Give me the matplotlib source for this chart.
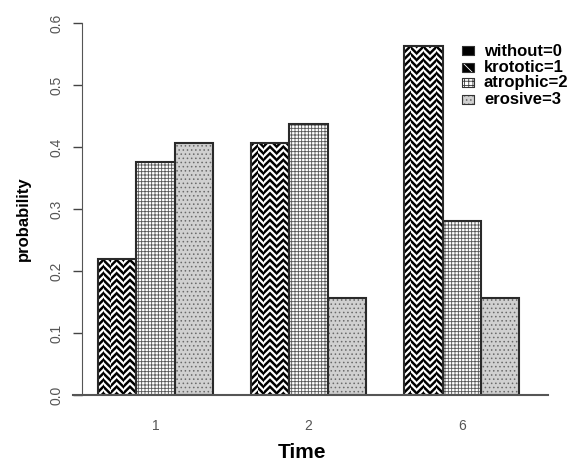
import matplotlib
matplotlib.use("Agg")
import matplotlib.pyplot as plt
from matplotlib.patches import Rectangle

plt.rcParams['font.family'] = ['Liberation Sans', 'DejaVu Sans']
plt.rcParams['hatch.linewidth'] = 0.6

# data (32 patients -> probabilities)
times = ["1", "2", "6"]
without = [0.219, 0.406, 0.5625]
atrophic = [0.375, 0.4375, 0.281]
erosive = [0.406, 0.156, 0.156]
legend_names = ["without=0", "krototic=1", "atrophic=2", "erosive=3"]
yticks = [0.0, 0.1, 0.2, 0.3, 0.4, 0.5, 0.6]

W, H = 572, 473
fig = plt.figure(figsize=(W / 100, H / 100), dpi=100)
ax = fig.add_axes([82 / W, 1 - 395 / H, (548 - 82) / W, (395 - 23) / H])

edge = "#2a2a2a"
nstrip = 6


def thick_hatch(bars, lw):
    for b in bars:
        if hasattr(b, "set_hatch_linewidth"):
            b.set_hatch_linewidth(lw)


for g in range(len(times)):
    x0 = g * 4
    # without: black with white herringbone (alternating strips)
    ax.bar(x0, without[g], width=1, align="edge", color="black", linewidth=0)
    for s in range(nstrip):
        bb = ax.bar(x0 + s / nstrip, without[g], width=1 / nstrip, align="edge",
                    facecolor="none", edgecolor="white", linewidth=0,
                    hatch="/////" if s % 2 == 0 else "\\\\\\\\\\")
        thick_hatch(bb, 1.6)
    # atrophic: fine grid
    ax.bar(x0 + 1, atrophic[g], width=1, align="edge", facecolor="white",
           edgecolor="#555555", linewidth=0, hatch="+++++")
    # erosive: speckled grey
    ax.bar(x0 + 2, erosive[g], width=1, align="edge", facecolor="#d0d0d0",
           edgecolor="#6a6a6a", linewidth=0, hatch="....")
    # outlines
    for i, v in enumerate([without[g], atrophic[g], erosive[g]]):
        ax.bar(x0 + i, v, width=1, align="edge", facecolor="none",
               edgecolor=edge, linewidth=1.5)

ax.set_xlim(-0.418, 11.75)
ax.set_ylim(0, 0.6)

for side in ["top", "right"]:
    ax.spines[side].set_visible(False)
ax.spines["left"].set_bounds(0, 0.6)
ax.spines["left"].set_color("#555555")
ax.spines["bottom"].set_bounds(-0.653, 11.75)
ax.spines["bottom"].set_color("#555555")
ax.spines["bottom"].set_linewidth(1.5)

ax.set_xticks([g * 4 + 1.5 for g in range(len(times))])
ax.set_xticklabels(times)
ax.tick_params(axis="x", length=0, pad=17, labelsize=10, labelcolor="#555555")
ax.set_yticks(yticks)
ax.set_yticklabels(["%.1f" % v for v in yticks], rotation=90, va="center")
ax.tick_params(axis="y", length=6.5, width=1, color="#444444", pad=7,
               labelsize=10, labelcolor="#555555")

fig.text(23 / W, 1 - 219 / H, "probability", rotation=90, ha="center",
         va="center", fontsize=12, fontweight="bold")
fig.text(302 / W, 1 - 452 / H, "Time", ha="center", va="center",
         fontsize=15, fontweight="bold")

# legend drawn by hand
styles = [
    dict(facecolor="black", edgecolor="black", hatch=None),
    dict(facecolor="black", edgecolor="white", hatch="\\\\\\"),
    dict(facecolor="white", edgecolor="#3a3a3a", hatch="++++"),
    dict(facecolor="#d0d0d0", edgecolor="#6a6a6a", hatch="...."),
]
for k, name in enumerate(legend_names):
    yc = 51 + 16 * k
    r = Rectangle((462 / W, 1 - (yc + 4.5) / H), 12 / W, 9 / H,
                  transform=fig.transFigure, linewidth=0.6, **styles[k])
    fig.patches.append(r)
    r2 = Rectangle((462 / W, 1 - (yc + 4.5) / H), 12 / W, 9 / H,
                   transform=fig.transFigure, facecolor="none",
                   edgecolor="#333333", linewidth=0.8)
    fig.patches.append(r2)
    fig.text(484 / W, 1 - yc / H, name, ha="left", va="center",
             fontsize=12, fontweight="bold")

fig.savefig("out.png", dpi=100)
